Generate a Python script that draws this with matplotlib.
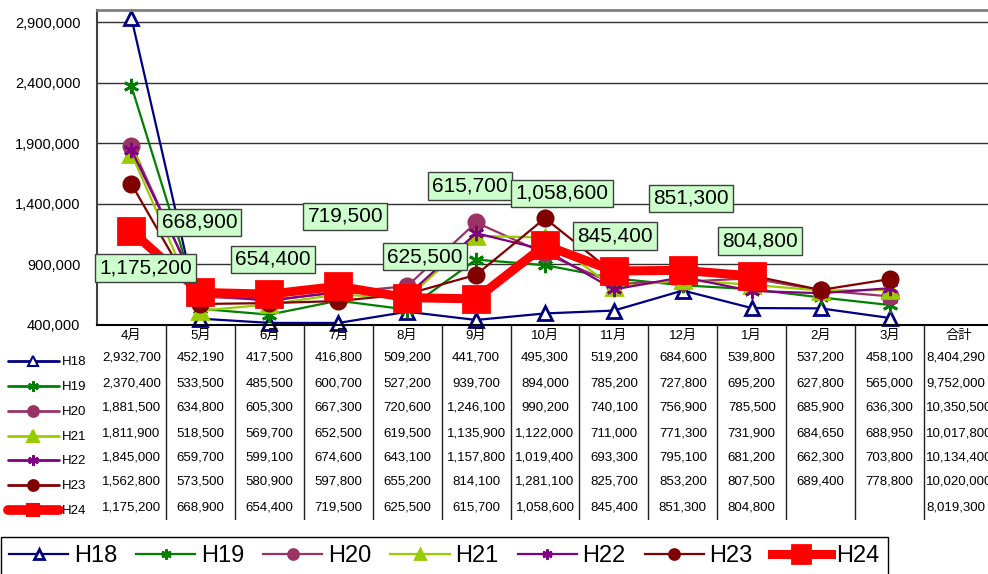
import matplotlib
matplotlib.use('Agg')
import matplotlib.pyplot as plt
from matplotlib.ticker import StrMethodFormatter

plt.rcParams['font.family'] = ['Liberation Sans', 'Noto Sans CJK JP']

months = ['4月', '5月', '6月', '7月', '8月', '9月', '10月', '11月', '12月', '1月', '2月', '3月']
total_label = '合計'
series_names = ['H18', 'H19', 'H20', 'H21', 'H22', 'H23', 'H24']

h18 = [2932700, 452190, 417500, 416800, 509200, 441700, 495300, 519200, 684600, 539800, 537200, 458100]
h19 = [2370400, 533500, 485500, 600700, 527200, 939700, 894000, 785200, 727800, 695200, 627800, 565000]
h20 = [1881500, 634800, 605300, 667300, 720600, 1246100, 990200, 740100, 756900, 785500, 685900, 636300]
h21 = [1811900, 518500, 569700, 652500, 619500, 1135900, 1122000, 711000, 771300, 731900, 684650, 688950]
h22 = [1845000, 659700, 599100, 674600, 643100, 1157800, 1019400, 693300, 795100, 681200, 662300, 703800]
h23 = [1562800, 573500, 580900, 597800, 655200, 814100, 1281100, 825700, 853200, 807500, 689400, 778800]
h24 = [1175200, 668900, 654400, 719500, 625500, 615700, 1058600, 845400, 851300, 804800]

totals = [8404290, 9752000, 10350500, 10017800, 10134400, 10020000, 8019300]

yticks = [400000, 900000, 1400000, 1900000, 2400000, 2900000]

series = [h18, h19, h20, h21, h22, h23, h24]

# styles: colour, marker, marker size, marker face, line width
styles = [
    ('#000080', '^', 10, 'white', 1.6),
    ('#008000', (6, 2, 0), 11, '#008000', 1.6),
    ('#993366', 'o', 11, '#993366', 1.6),
    ('#99CC00', '^', 12, '#99CC00', 1.6),
    ('#800080', (6, 2, 0), 11, '#800080', 1.6),
    ('#800000', 'o', 11, '#800000', 1.6),
    ('#FF0000', 's', 19, '#FF0000', 6.5),
]

# pixel offsets of the H24 value boxes
label_offsets = [(14, -37), (-1, 70), (4, 35), (7, 70), (18, 41),
                 (-6, 113), (17, 52), (1, 35), (8, 72), (8, 35)]

W, H = 988, 574
fig = plt.figure(figsize=(W / 100, H / 100), dpi=100)

x0, x1 = 97, 993
ax = fig.add_axes([x0 / W, (H - 325) / H, (x1 - x0) / W, 315 / H])
ax.set_xlim(-0.5, 12.5)
ax.set_ylim(400000, 3000000)
ax.set_yticks(yticks)
ax.yaxis.set_major_formatter(StrMethodFormatter('{x:,.0f}'))
ax.tick_params(axis='y', length=0, pad=12, labelsize=10.5)
ax.set_xticks([])
ax.grid(axis='y', color='#303030', linewidth=1)
ax.set_axisbelow(True)
ax.spines['top'].set_color('#808080')
ax.spines['top'].set_linewidth(2)
ax.spines['left'].set_color('#404040')
ax.spines['left'].set_linewidth(1.5)
ax.spines['bottom'].set_color('black')
ax.spines['bottom'].set_linewidth(1.5)
ax.spines['right'].set_color('#808080')

handles = []
for name, values, (color, marker, ms, mfc, lw) in zip(series_names, series, styles):
    xs = list(range(len(values)))
    line, = ax.plot(xs, values, color=color, linewidth=lw, marker=marker,
                    markersize=ms, markerfacecolor=mfc, markeredgecolor=color,
                    markeredgewidth=2, label=name, clip_on=False)
    handles.append(line)

for i, (value, (dx, dy)) in enumerate(zip(h24, label_offsets)):
    ax.annotate(f'{value:,}', xy=(i, value), xytext=(dx, dy),
                textcoords='offset pixels', ha='center', va='center',
                fontsize=15, zorder=10,
                bbox=dict(boxstyle='square,pad=0.2', fc='#CCFFCC',
                          ec='#404040', lw=1))

# data table under the chart
axt = fig.add_axes([x0 / W, (H - 520) / H, (x1 - x0) / W, 195 / H])
axt.set_xlim(-0.5, 12.5)
axt.set_ylim(520, 325)
axt.axis('off')
for b in range(12):
    axt.axvline(b + 0.5, color='#202020', linewidth=1)

for i, m in enumerate(months + [total_label]):
    axt.text(i, 336, m, ha='center', va='center', fontsize=9.5)


def px(p):
    return -0.5 + (p - x0) * 13 / (x1 - x0)


row_y = [358, 383, 408, 433, 457, 482, 507]
for r, (name, values, (color, marker, ms, mfc, lw)) in enumerate(zip(series_names, series, styles)):
    y = row_y[r]
    for i, v in enumerate(values):
        axt.text(i, y, f'{v:,}', ha='center', va='center', fontsize=9.5)
    axt.text(px(926), y, f'{totals[r]:,}', ha='left', va='center', fontsize=9.5,
             clip_on=False)
    key_lw = 7 if name == 'H24' else 2
    axt.plot([px(8), px(33), px(59)], [y + 3, y + 3, y + 3], color=color,
             linewidth=key_lw, solid_capstyle='round', marker=marker,
             markevery=[1], markersize=min(ms * 0.7, 9), markerfacecolor=mfc,
             markeredgecolor=color, markeredgewidth=1.5, clip_on=False)
    axt.text(px(62), y + 4, name, ha='left', va='center', fontsize=9.5,
             clip_on=False)

leg = fig.legend(handles=handles, loc='upper left', ncol=7,
                 bbox_to_anchor=(1 / W, 1 - 537 / H), borderaxespad=0,
                 fontsize=17, handlelength=2.5, handletextpad=0.25,
                 columnspacing=0.8, borderpad=0.35, fancybox=False,
                 framealpha=1, edgecolor='black', markerscale=0.65)
leg.get_frame().set_linewidth(1)

fig.savefig('out.png', dpi=100)
